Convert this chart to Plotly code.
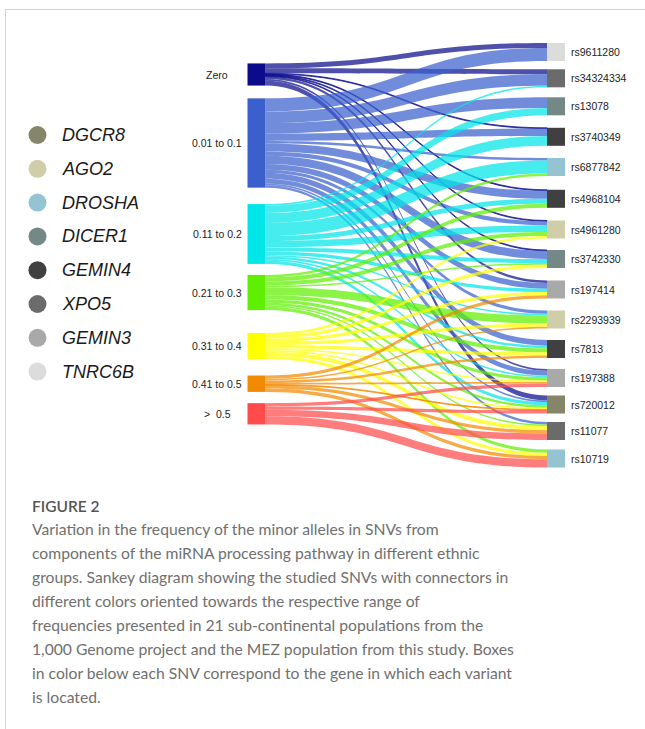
import plotly.graph_objects as go

W, H = 645, 729

# Frequency ranges of the minor allele (left column)
ranges = ["Zero", "0.01 to 0.1", "0.11 to 0.2", "0.21 to 0.3",
          "0.31 to 0.4", "0.41 to 0.5", ">  0.5"]
range_colors = ["#0b0b8c", "#3c5fce", "#00e6e8", "#5ef000",
                "#ffff00", "#f28a00", "#ff4b4b"]

# Studied SNVs (right column) and the gene each one sits in
snvs = ["rs9611280", "rs34324334", "rs13078", "rs3740349", "rs6877842",
        "rs4968104", "rs4961280", "rs3742330", "rs197414", "rs2293939",
        "rs7813", "rs197388", "rs720012", "rs11077", "rs10719"]
snv_genes = ["TNRC6B", "XPO5", "DICER1", "GEMIN4", "DROSHA",
             "GEMIN4", "AGO2", "DICER1", "GEMIN3", "AGO2",
             "GEMIN4", "GEMIN3", "DGCR8", "XPO5", "DROSHA"]

genes = ["DGCR8", "AGO2", "DROSHA", "DICER1", "GEMIN4", "XPO5", "GEMIN3", "TNRC6B"]
gene_colors = ["#85856a", "#cfcea8", "#94c3d2", "#748888",
               "#404040", "#6b6b6b", "#a9a9a9", "#dcdcdc"]

# Number of populations (22 per SNV) falling in each frequency range
zero   = [6, 6, 0, 1, 0, 1, 1, 1, 3, 0, 0, 2, 6, 0, 0]
f01_10 = [16, 14, 13, 9, 3, 10, 5, 10, 7, 4, 7, 6, 2, 3, 0]
f11_20 = [0, 2, 9, 12, 16, 6, 8, 5, 4, 2, 3, 2, 4, 0, 0]
f21_30 = [0, 0, 0, 0, 3, 5, 5, 2, 0, 10, 5, 4, 3, 2, 4]
f31_40 = [0, 0, 0, 0, 0, 0, 3, 4, 4, 4, 4, 2, 2, 5, 4]
f41_50 = [0, 0, 0, 0, 0, 0, 0, 0, 4, 2, 3, 2, 1, 4, 4]
f_gt50 = [0, 0, 0, 0, 0, 0, 0, 0, 0, 0, 0, 4, 4, 8, 10]
range_counts = [zero, f01_10, f11_20, f21_30, f31_40, f41_50, f_gt50]

caption_title = "FIGURE 2"
caption_lines = [
    "Variation in the frequency of the minor alleles in SNVs from",
    "components of the miRNA processing pathway in different ethnic",
    "groups. Sankey diagram showing the studied SNVs with connectors in",
    "different colors oriented towards the respective range of",
    "frequencies presented in 21 sub-continental populations from the",
    "1,000 Genome project and the MEZ population from this study. Boxes",
    "in color below each SNV correspond to the gene in which each variant",
    "is located.",
]

# ---- layout geometry (pixels) ----
dom_x0, dom_x1 = 238, 575
dom_y0, dom_y1 = 40, 470
left_cx, right_cx = 256.5, 556
left_cy = [74.5, 143, 234, 292.5, 346, 383.7, 413.8]
right_cy = [52, 78.3, 106.3, 136.8, 167, 198.8, 229.5, 259, 289.5,
            319.5, 349, 378, 404.5, 431, 458.5]


def hex_rgba(h, a):
    h = h.lstrip("#")
    return "rgba(%d,%d,%d,%.2f)" % (int(h[0:2], 16), int(h[2:4], 16), int(h[4:6], 16), a)


gene_color = dict(zip(genes, gene_colors))
n_left = len(ranges)

src, tgt, val, lcol = [], [], [], []
for i, row in enumerate(range_counts):
    for j, v in enumerate(row):
        if v > 0:
            src.append(i)
            tgt.append(n_left + j)
            val.append(v)
            lcol.append(hex_rgba(range_colors[i], 0.72))

dw = dom_x1 - dom_x0
dh = dom_y1 - dom_y0
node_x = [(left_cx - dom_x0) / dw] * n_left + [(right_cx - dom_x0) / dw] * len(snvs)
node_y = [(c - dom_y0) / dh for c in left_cy] + [(c - dom_y0) / dh for c in right_cy]

fig = go.Figure()

fig.add_trace(go.Sankey(
    arrangement="fixed",
    domain=dict(x=[dom_x0 / W, dom_x1 / W], y=[1 - dom_y1 / H, 1 - dom_y0 / H]),
    node=dict(
        label=[""] * (n_left + len(snvs)),
        color=range_colors + [gene_color[g] for g in snv_genes],
        thickness=18,
        pad=11.4,
        line=dict(width=0),
        x=node_x,
        y=node_y,
        hoverinfo="skip",
    ),
    link=dict(source=src, target=tgt, value=val, color=lcol, hoverinfo="skip"),
))

# Gene legend markers
leg_x0, leg_y0, leg_dy = 37.5, 135, 33.8
fig.add_trace(go.Scatter(
    x=[leg_x0] * len(genes),
    y=[leg_y0 + k * leg_dy for k in range(len(genes))],
    mode="markers",
    marker=dict(size=18, color=gene_colors, line=dict(width=0)),
    hoverinfo="skip",
    showlegend=False,
))

annotations = []
lab_font = dict(family="Liberation Sans, Arial, sans-serif", size=10.5, color="#222222")
for name, cy in zip(ranges, left_cy):
    annotations.append(dict(x=217, y=cy, xref="x", yref="y", text=name,
                            showarrow=False, xanchor="center", yanchor="middle",
                            font=lab_font))
for name, cy in zip(snvs, right_cy):
    annotations.append(dict(x=569, y=cy, xref="x", yref="y", text=name,
                            showarrow=False, xanchor="left", yanchor="middle",
                            font=lab_font))
for k, g in enumerate(genes):
    annotations.append(dict(x=60, y=leg_y0 + k * leg_dy, xref="x", yref="y",
                            text="<i>%s</i>" % g, showarrow=False,
                            xanchor="left", yanchor="middle",
                            font=dict(family="Liberation Sans, Arial, sans-serif",
                                      size=18, color="#1a1a1a")))

cap_font = dict(family="Lato, sans-serif", size=15.7, color="#707070")
annotations.append(dict(x=30, y=506, xref="x", yref="y", text=caption_title,
                        showarrow=False, xanchor="left", yanchor="middle",
                        font=dict(family="Lato, sans-serif", size=15.5,
                                  color="#555555", weight=600)))
for k, line in enumerate(caption_lines):
    annotations.append(dict(x=30, y=529 + 24 * k, xref="x", yref="y", text=line,
                            showarrow=False, xanchor="left", yanchor="middle",
                            font=cap_font))

frame = dict(color="#d2d2d2", width=1)
shapes = [
    dict(type="line", xref="x", yref="y", x0=5, x1=W, y0=9.5, y1=9.5, line=frame),
    dict(type="line", xref="x", yref="y", x0=5.5, x1=5.5, y0=9.5, y1=H, line=frame),
]

fig.update_layout(
    width=W, height=H,
    margin=dict(l=0, r=0, t=0, b=0),
    paper_bgcolor="white", plot_bgcolor="white",
    xaxis=dict(range=[0, W], visible=False, fixedrange=True),
    yaxis=dict(range=[H, 0], visible=False, fixedrange=True),
    annotations=annotations,
    shapes=shapes,
    showlegend=False,
)

fig.write_html("out.html")
